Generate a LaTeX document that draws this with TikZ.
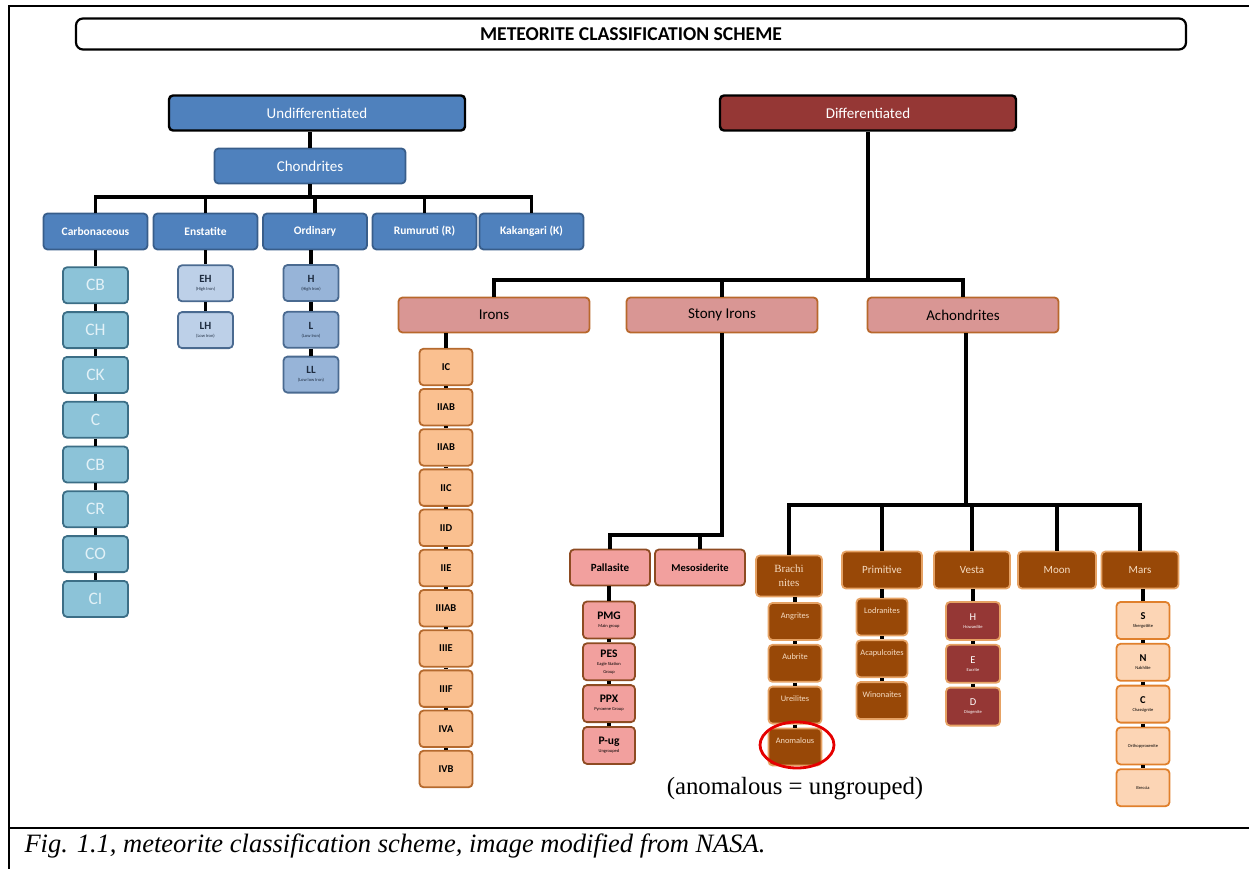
\documentclass[tikz,border=0pt]{standalone}
\usepackage{fontspec}
\setmainfont{Carlito}
\newfontfamily\timesfont{Liberation Serif}
\usetikzlibrary{positioning}

\definecolor{chondblue}{HTML}{4F81BD}
\definecolor{chondline}{HTML}{385D8A}
\definecolor{carbfill}{HTML}{8CC3D8}
\definecolor{carbline}{HTML}{3C6E86}
\definecolor{carbtext}{HTML}{E2F1F7}
\definecolor{enstfill}{HTML}{BDD0E8}
\definecolor{ordfill}{HTML}{97B4D8}
\definecolor{subline}{HTML}{4A6A90}
\definecolor{subtext}{HTML}{1E2C40}
\definecolor{diffred}{HTML}{953735}
\definecolor{rosefill}{HTML}{D99694}
\definecolor{roseline}{HTML}{B8682C}
\definecolor{ironfill}{HTML}{FAC090}
\definecolor{ironline}{HTML}{B56A2E}
\definecolor{pallfill}{HTML}{F2A09E}
\definecolor{pallline}{HTML}{8E4B22}
\definecolor{achfill}{HTML}{984807}
\definecolor{achline}{HTML}{E6A264}
\definecolor{achtext}{HTML}{F6DCC2}
\definecolor{marsfill}{HTML}{FCD5B5}
\definecolor{marsline}{HTML}{E0802C}

\newcommand{\fsz}[2]{\fontsize{#1}{#2}\selectfont}
\newcommand{\subname}[1]{{\fsz{4.5}{6}\mdseries #1}}

\tikzset{
  x=1pt, y=-1pt,
  box/.style={draw, rounded corners=4pt, line width=1.8pt, align=center,
    inner sep=1pt},
  titlebox/.style={box, rounded corners=7pt, line width=2.2pt, draw=black,
    minimum width=1110pt, minimum height=31pt, font=\fsz{19.6}{22}\bfseries},
  head/.style={box, minimum width=296pt, minimum height=35pt, draw=black,
    line width=2.4pt, text=white, font=\fsz{15}{17}},
  chondgroup/.style={box, fill=chondblue, draw=chondline, text=white,
    minimum width=104pt, minimum height=36pt, font=\fsz{11.5}{14}\bfseries},
  carb/.style={box, fill=carbfill, draw=carbline, text=carbtext,
    minimum width=65pt, minimum height=36pt, font=\fsz{17.5}{20}},
  chsub/.style={box, draw=subline, text=subtext, minimum width=55pt,
    minimum height=36pt, font=\fsz{11}{8}\bfseries},
  diffgroup/.style={box, fill=rosefill, draw=roseline, minimum width=191pt,
    minimum height=35pt, font=\fsz{15}{18}},
  iron/.style={box, fill=ironfill, draw=ironline, minimum width=53pt,
    minimum height=36.5pt, font=\fsz{10.5}{12}\bfseries},
  stony/.style={box, fill=pallfill, draw=pallline, minimum height=36pt,
    font=\fsz{10.5}{12}\bfseries},
  pallsub/.style={box, fill=pallfill, draw=pallline, minimum width=52pt,
    minimum height=37pt, font=\fsz{11.5}{8}\bfseries},
  achgroup/.style={box, fill=achfill, draw=achline, text=achtext,
    minimum width=78pt, minimum height=37pt, font=\fsz{11}{13}},
  achsub/.style={box, fill=achfill, draw=achline, text=achtext,
    minimum width=53pt, text height=13pt, text depth=20pt, inner ysep=2pt,
    font=\fsz{8.4}{10}},
  vestasub/.style={box, fill=diffred, draw=achline, text=white,
    minimum width=54pt, minimum height=38pt, font=\fsz{10.5}{8}},
  marssub/.style={box, fill=marsfill, draw=marsline, minimum width=53pt,
    minimum height=37pt, font=\fsz{10.5}{8}\bfseries},
  link/.style={line width=3.4pt, black},
  ring/.style={line width=2.8pt, red!90!black},
  frame/.style={line width=1.8pt, black}
}

\begin{document}
\begin{tikzpicture}
  \useasboundingbox (0,0) rectangle (1249,869);
  % frame and caption
  \draw[frame] (9,869) -- (9,6) -- (1249,6);
  \draw[frame] (9,828) -- (1249,828);
  \node[anchor=west, font=\timesfont\itshape\fsz{26.5}{30}] (caption) at (21,846)
    {Fig. 1.1, meteorite classification scheme, image modified from NASA.};

  \node[titlebox] (title) at (631,34) {METEORITE CLASSIFICATION SCHEME};

  % undifferentiated side
  \node[head, fill=chondblue] (undiff) at (317,113) {Undifferentiated};
  \node[box, fill=chondblue, draw=chondline, text=white, minimum width=191pt,
    minimum height=35pt, font=\fsz{15}{17}] (chon) at (310,166) {Chondrites};

  \node[chondgroup] (carbo) at (95.5,231.5) {Carbonaceous};
  \node[chondgroup] (enst) at (205.5,231.5) {Enstatite};
  \node[chondgroup] (ordi) at (315,231.5) {Ordinary};
  \node[chondgroup] (rumu) at (424.5,231.5) {Rumuruti (R)};
  \node[chondgroup] (kaka) at (531.5,231.5) {Kakangari (K)};

  \node[carb, below=16pt of carbo] (cb) {CB};
  \node[carb, below=7pt of cb] (ch) {CH};
  \node[carb, below=7pt of ch] (ck) {CK};
  \node[carb, below=7pt of ck] (cc) {C};
  \node[carb, below=7pt of cc] (cbb) {CB};
  \node[carb, below=7pt of cbb] (cr) {CR};
  \node[carb, below=7pt of cr] (co) {CO};
  \node[carb, below=7pt of co] (ci) {CI};

  \node[chsub, fill=enstfill, below=14pt of enst] (eh) {EH\\\subname{(High Iron)}};
  \node[chsub, fill=enstfill, below=9pt of eh] (lh) {LH\\\subname{(Low Iron)}};

  \node[chsub, fill=ordfill] (oh) at (311,283) {H\\\subname{(High Iron)}};
  \node[chsub, fill=ordfill, below=9pt of oh] (ol) {L\\\subname{(Low Iron)}};
  \node[chsub, fill=ordfill, below=7pt of ol] (oll) {LL\\\subname{(Low low Iron)}};

  % differentiated side
  \node[head, fill=diffred] (diff) at (868,113) {Differentiated};
  \node[diffgroup] (irons) at (494,315) {Irons};
  \node[diffgroup] (stony) at (722,315) {Stony Irons};
  \node[diffgroup] (achon) at (963,315) {Achondrites};

  \node[iron] (ic) at (446,367) {IC};
  \node[iron, below=1.9pt of ic] (iiab) {IIAB};
  \node[iron, below=1.9pt of iiab] (iiabb) {IIAB};
  \node[iron, below=1.9pt of iiabb] (iic) {IIC};
  \node[iron, below=1.9pt of iic] (iid) {IID};
  \node[iron, below=1.9pt of iid] (iie) {IIE};
  \node[iron, below=1.9pt of iie] (iiiab) {IIIAB};
  \node[iron, below=1.9pt of iiiab] (iiie) {IIIE};
  \node[iron, below=1.9pt of iiie] (iiif) {IIIF};
  \node[iron, below=1.9pt of iiif] (iva) {IVA};
  \node[iron, below=1.9pt of iva] (ivb) {IVB};

  \node[stony, minimum width=80pt, font=\fsz{11}{13}\bfseries] (pall) at (610,567.5) {Pallasite};
  \node[stony, minimum width=90pt] (meso) at (700,567.5) {Mesosiderite};
  \node[pallsub] (pmg) at (609,620) {PMG\\\subname{Main group}};
  \node[pallsub, below=3pt of pmg] (pes) {PES\\\subname{Eagle Station}\\\subname{Group}};
  \node[pallsub, below=3pt of pes] (ppx) {PPX\\\subname{Pyroxene Group}};
  \node[pallsub, below=3pt of ppx] (pug) {P-ug\\\subname{Ungrouped}};

  \node[achgroup, minimum width=66pt, minimum height=41pt,
    font=\timesfont\fsz{11}{14}] (brach) at (789,576) {Brachi\\nites};
  \node[achgroup, minimum width=80pt] (prim) at (882,570) {Primitive};
  \node[achgroup, minimum width=76pt] (vesta) at (972,570) {Vesta};
  \node[achgroup] (moon) at (1057,570) {Moon};
  \node[achgroup, minimum width=77pt] (mars) at (1140,570) {Mars};

  \node[achsub] (angr) at (795,621.5) {Angrites};
  \node[achsub, below=3pt of angr] (aubr) {Aubrite};
  \node[achsub, below=3pt of aubr] (ureil) {Ureilites};
  \node[achsub, below=3pt of ureil] (anom) {Anomalous};

  \node[achsub, minimum width=51pt] (lodr) at (882,617) {Lodranites};
  \node[achsub, minimum width=51pt, below=3pt of lodr] (acap) {Acapulcoites};
  \node[achsub, minimum width=51pt, below=3pt of acap] (wino) {Winonaites};

  \node[vestasub] (vh) at (973,621) {H\\\subname{Howardite}};
  \node[vestasub, below=3pt of vh] (ve) {E\\\subname{Eucrite}};
  \node[vestasub, below=3pt of ve] (vd) {D\\\subname{Diogenite}};

  \node[marssub] (ms) at (1143,620.5) {S\\\subname{Shergottite}};
  \node[marssub, below=3pt of ms] (mn) {N\\\subname{Nakhlite}};
  \node[marssub, below=3pt of mn] (mc) {C\\\subname{Chassignite}};
  \node[marssub, below=3pt of mc] (mo) {\subname{Orthopyroxenite}};
  \node[marssub, below=3pt of mo] (mb) {\subname{Breccia}};

  \draw[ring] (797,745) ellipse [x radius=37, y radius=23];
  \node[font=\timesfont\fsz{24.8}{28}] (anomnote) at (795,789) {(anomalous = ungrouped)};

  % connectors
  \coordinate (cbus) at (310,197);
  \coordinate (dbus) at (868,280);
  \coordinate (sbus) at (722,535);
  \coordinate (abus) at (966,505);

  \draw[link] (chon.north) -- (chon.north |- undiff.south);
  \draw[link] (chon.south) -- (cbus);
  \draw[link] (carbo.north) |- (cbus) -| (kaka.north);
  \draw[link] (enst.north) -- (enst.north |- cbus);
  \draw[link] (ordi.north) -- (ordi.north |- cbus);
  \draw[link] (rumu.north) -- (rumu.north |- cbus);

  \draw[link] (carbo) -- (cb);
  \draw[link] (cb) -- (ch);
  \draw[link] (ch) -- (ck);
  \draw[link] (ck) -- (cc);
  \draw[link] (cc) -- (cbb);
  \draw[link] (cbb) -- (cr);
  \draw[link] (cr) -- (co);
  \draw[link] (co) -- (ci);
  \draw[link] (enst) -- (eh);
  \draw[link] (eh) -- (lh);
  \draw[link] (oh.north) -- (oh.north |- ordi.south);
  \draw[link] (oh) -- (ol);
  \draw[link] (ol) -- (oll);

  \draw[link] (diff.south) -- (dbus);
  \draw[link] (irons.north) |- (dbus) -| (achon.north);
  \draw[link] (stony.north) -- (stony.north |- dbus);

  \draw[link] (ic.north) -- (ic.north |- irons.south);
  \draw[link] (ic) -- (iiab);
  \draw[link] (iiab) -- (iiabb);
  \draw[link] (iiabb) -- (iic);
  \draw[link] (iic) -- (iid);
  \draw[link] (iid) -- (iie);
  \draw[link] (iie) -- (iiiab);
  \draw[link] (iiiab) -- (iiie);
  \draw[link] (iiie) -- (iiif);
  \draw[link] (iiif) -- (iva);
  \draw[link] (iva) -- (ivb);

  \draw[link] (stony.south) -- (sbus) -| (pall.north);
  \draw[link] (meso.north) -- (meso.north |- sbus);
  \draw[link] (pall.south -| pmg.north) -- (pmg.north);
  \draw[link] (pmg) -- (pes);
  \draw[link] (pes) -- (ppx);
  \draw[link] (ppx) -- (pug);

  \draw[link] (achon.south -| abus) -- (abus);
  \draw[link] (brach.north) |- (abus) -| (mars.north);
  \draw[link] (prim.north) -- (prim.north |- abus);
  \draw[link] (vesta.north) -- (vesta.north |- abus);
  \draw[link] (moon.north) -- (moon.north |- abus);

  \draw[link] (angr.north) -- (angr.north |- brach.south);
  \draw[link] (angr) -- (aubr);
  \draw[link] (aubr) -- (ureil);
  \draw[link] (ureil) -- (anom);
  \draw[link] (prim) -- (lodr);
  \draw[link] (lodr) -- (acap);
  \draw[link] (acap) -- (wino);
  \draw[link] (vh.north) -- (vh.north |- vesta.south);
  \draw[link] (vh) -- (ve);
  \draw[link] (ve) -- (vd);
  \draw[link] (ms.north) -- (ms.north |- mars.south);
  \draw[link] (ms) -- (mn);
  \draw[link] (mn) -- (mc);
  \draw[link] (mc) -- (mo);
  \draw[link] (mo) -- (mb);
\end{tikzpicture}
\end{document}
